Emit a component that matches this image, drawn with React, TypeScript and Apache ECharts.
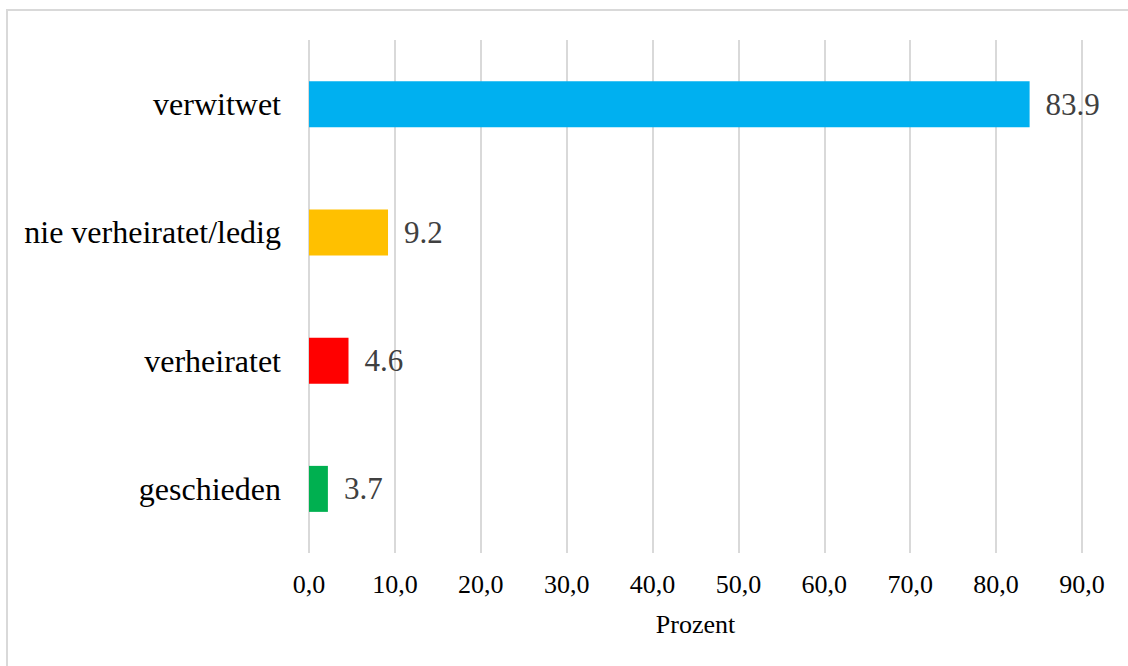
import React, { useEffect, useRef } from "react";
import * as echarts from "echarts";

const categories = ["verwitwet", "nie verheiratet/ledig", "verheiratet", "geschieden"];
const barValues = [83.9, 9.2, 4.6, 2.2];
const valueLabels = ["83.9", "9.2", "4.6", "3.7"];
const barColors = ["#00B0F0", "#FFC000", "#FF0000", "#00B050"];
const axisName = "Prozent";

const FONT = "'Liberation Serif', 'Times New Roman', serif";

export default function App() {
  const ref = useRef<HTMLDivElement>(null);
  useEffect(() => {
    if (!ref.current) return;
    const chart = echarts.init(ref.current, undefined, { renderer: "svg" });
    chart.setOption({
      animation: false,
      backgroundColor: "#ffffff",
      textStyle: { fontFamily: FONT },
      graphic: [
        {
          type: "rect",
          shape: { x: 7, y: 10, width: 1140, height: 680 },
          style: { fill: "none", stroke: "#d9d9d9", lineWidth: 2 },
          silent: true,
        },
      ],
      grid: { left: 309, right: 46, top: 40, bottom: 113, containLabel: false },
      xAxis: {
        type: "value",
        min: 0,
        max: 90,
        interval: 10,
        name: axisName,
        nameLocation: "middle",
        nameGap: 58,
        nameTextStyle: { fontSize: 26, color: "#000", fontFamily: FONT },
        axisLine: { show: false },
        axisTick: { show: false },
        splitLine: { show: true, lineStyle: { color: "#d9d9d9", width: 2 } },
        axisLabel: {
          fontSize: 26,
          color: "#000",
          fontFamily: FONT,
          margin: 18,
          formatter: (v: number) => v.toFixed(1).replace(".", ","),
        },
      },
      yAxis: {
        type: "category",
        data: categories,
        inverse: true,
        axisLine: { show: false },
        axisTick: { show: false },
        axisLabel: { fontSize: 32, color: "#000", fontFamily: FONT, margin: 28 },
      },
      series: [
        {
          type: "bar",
          barWidth: 46,
          data: barValues.map((v, i) => ({ value: v, itemStyle: { color: barColors[i] } })),
          label: {
            show: true,
            position: "right",
            distance: 16,
            fontSize: 31,
            color: "#404040",
            fontFamily: FONT,
            formatter: (p: any) => valueLabels[p.dataIndex],
          },
        },
      ],
    });
    return () => chart.dispose();
  }, []);
  return (
    <div
      ref={ref}
      style={{ position: "fixed", left: 0, top: 0, width: 1128, height: 666 }}
    />
  );
}
